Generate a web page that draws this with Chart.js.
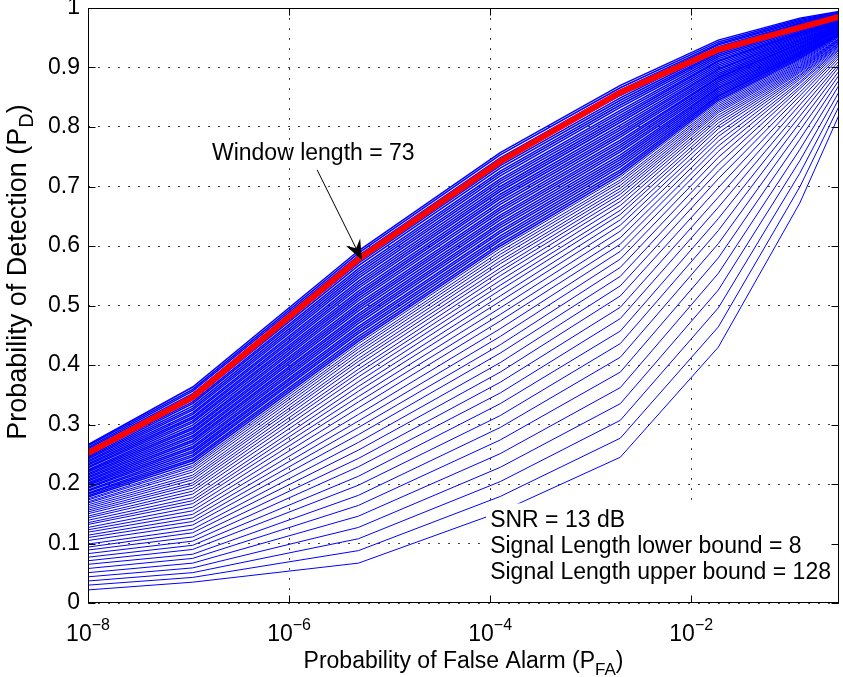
<!DOCTYPE html>
<html lang="en">
<head>
  <meta charset="UTF-8">
  <title>Probability of Detection vs False Alarm</title>
  <style>
    html, body { margin: 0; padding: 0; background: #fff; }
    #wrap { width: 843px; height: 677px; }
  </style>
</head>
<body>
<div id="wrap"><canvas id="rocChart" width="843" height="677"></canvas></div>

<script src="https://cdn.jsdelivr.net/npm/chart.js"></script>
<script>
  // false alarm probabilities where every curve has a point
  const pfa = [1e-8, 1.1e-7, 4.9e-6, 1.26e-4, 1.97e-3, 1.86e-2, 0.12, 0.295];

  // PD of every window length curve at each PFA column (lowest curve first)
  const pd0 = [0.022,0.030,0.037,0.044,0.051,0.058,0.065,0.071,0.077,0.083,0.089,0.094,0.099,0.105,0.110,0.114,0.119,0.123,0.127,0.132,0.135,0.139,0.143,0.146,0.150,0.153,0.156,0.159,0.162,0.165,0.168,0.170,0.173,0.175,
    0.178,0.180,0.183,0.185,0.188,0.190,0.193,0.195,0.198,0.200,0.202,0.205,0.207,0.210,0.212,0.215,0.217,0.220,0.222,0.224,0.227,0.229,0.232,0.234,0.237,0.239,0.242,0.244,0.246,0.249,0.251,0.254,0.256,0.259,0.261,0.264,0.266];
  const pd1 = [0.035,0.043,0.051,0.059,0.067,0.075,0.082,0.090,0.097,0.104,0.111,0.118,0.124,0.131,0.137,0.143,0.149,0.155,0.161,0.167,0.172,0.177,0.183,0.188,0.193,0.198,0.202,0.207,0.211,0.215,0.220,0.224,0.228,0.231,
    0.235,0.239,0.242,0.246,0.249,0.253,0.256,0.260,0.263,0.267,0.271,0.274,0.278,0.281,0.285,0.288,0.292,0.295,0.299,0.303,0.306,0.310,0.313,0.317,0.320,0.324,0.327,0.331,0.335,0.338,0.342,0.345,0.349,0.352,0.356,0.359,0.363];
  const pd2 = [0.067,0.088,0.108,0.127,0.146,0.164,0.181,0.198,0.213,0.229,0.243,0.257,0.270,0.283,0.295,0.306,0.317,0.328,0.338,0.347,0.356,0.364,0.372,0.380,0.387,0.393,0.400,0.406,0.411,0.417,0.422,0.427,0.431,0.436,
    0.440,0.444,0.448,0.453,0.457,0.461,0.465,0.470,0.474,0.478,0.482,0.486,0.491,0.495,0.499,0.503,0.508,0.512,0.516,0.520,0.524,0.529,0.533,0.537,0.541,0.546,0.550,0.554,0.558,0.562,0.567,0.571,0.575,0.579,0.584,0.588,0.592];
  const pd3 = [0.153,0.179,0.204,0.228,0.251,0.274,0.295,0.315,0.335,0.353,0.371,0.388,0.404,0.420,0.434,0.448,0.461,0.474,0.485,0.496,0.507,0.516,0.526,0.534,0.542,0.550,0.557,0.563,0.570,0.575,0.581,0.586,0.591,0.596,
    0.600,0.604,0.609,0.613,0.617,0.622,0.626,0.631,0.635,0.639,0.644,0.648,0.652,0.657,0.661,0.665,0.670,0.674,0.679,0.683,0.687,0.692,0.696,0.700,0.705,0.709,0.713,0.718,0.722,0.726,0.731,0.735,0.740,0.744,0.748,0.753,0.757];
  const pd4 = [0.245,0.277,0.307,0.335,0.362,0.388,0.413,0.436,0.457,0.478,0.497,0.516,0.533,0.549,0.564,0.578,0.591,0.603,0.614,0.625,0.635,0.644,0.653,0.660,0.668,0.675,0.681,0.687,0.692,0.697,0.702,0.707,0.711,0.716,
    0.720,0.724,0.728,0.733,0.737,0.741,0.745,0.749,0.753,0.758,0.762,0.766,0.770,0.774,0.778,0.783,0.787,0.791,0.795,0.799,0.803,0.808,0.812,0.816,0.820,0.824,0.828,0.833,0.837,0.841,0.845,0.849,0.853,0.858,0.862,0.866,0.870];
  const pd5 = [0.430,0.464,0.496,0.526,0.554,0.580,0.604,0.626,0.646,0.665,0.682,0.698,0.713,0.726,0.738,0.749,0.759,0.768,0.776,0.784,0.790,0.797,0.802,0.807,0.812,0.816,0.820,0.824,0.827,0.830,0.833,0.836,0.839,0.842,
    0.845,0.848,0.851,0.853,0.856,0.859,0.862,0.865,0.867,0.870,0.873,0.876,0.879,0.882,0.884,0.887,0.890,0.893,0.896,0.898,0.901,0.904,0.907,0.910,0.912,0.915,0.918,0.921,0.924,0.926,0.929,0.932,0.935,0.938,0.940,0.943,0.946];
  const pd6 = [0.672,0.699,0.722,0.743,0.762,0.779,0.794,0.807,0.818,0.828,0.837,0.845,0.852,0.858,0.864,0.868,0.873,0.876,0.880,0.883,0.886,0.888,0.891,0.893,0.895,0.897,0.899,0.901,0.903,0.905,0.907,0.909,0.911,0.913,
    0.915,0.917,0.919,0.921,0.923,0.924,0.926,0.928,0.930,0.932,0.934,0.936,0.938,0.940,0.941,0.943,0.945,0.947,0.949,0.951,0.953,0.955,0.957,0.958,0.960,0.962,0.964,0.966,0.968,0.970,0.972,0.974,0.975,0.977,0.979,0.981,0.983];
  const pd7 = [0.820,0.835,0.848,0.859,0.870,0.879,0.887,0.894,0.901,0.906,0.911,0.916,0.920,0.923,0.926,0.929,0.931,0.933,0.935,0.937,0.938,0.940,0.941,0.942,0.944,0.945,0.946,0.947,0.948,0.949,0.951,0.952,0.953,0.954,
    0.955,0.956,0.957,0.958,0.959,0.960,0.962,0.963,0.964,0.965,0.966,0.967,0.968,0.969,0.970,0.971,0.972,0.973,0.975,0.976,0.977,0.978,0.979,0.980,0.981,0.982,0.983,0.984,0.985,0.986,0.988,0.989,0.990,0.991,0.992,0.993,0.994];

  // first index of the densely packed upper bundle
  const bundleStart = 34;

  // highlighted curve, window length = 73
  const pdWindow73 = [0.252, 0.346, 0.578, 0.742, 0.858, 0.930, 0.967, 0.985];

  const xTickValues = [1e-8, 1e-6, 1e-4, 1e-2];
  const xTickExponents = ['\u22128', '\u22126', '\u22124', '\u22122'];
  const yTickValues = [0, 0.1, 0.2, 0.3, 0.4, 0.5, 0.6, 0.7, 0.8, 0.9, 1];
  const yTickLabels = ['0', '0.1', '0.2', '0.3', '0.4', '0.5', '0.6', '0.7', '0.8', '0.9', '1'];

  const infoLines = ['SNR = 13 dB', 'Signal Length lower bound = 8', 'Signal Length upper bound = 128'];

  const FONT = '"Liberation Sans", Arial, Helvetica, sans-serif';
  const pdColumns = [pd0, pd1, pd2, pd3, pd4, pd5, pd6, pd7];

  const datasets = [];
  datasets.push({
    label: 'Window length = 73',
    data: pfa.map((x, i) => ({ x: x, y: pdWindow73[i] })),
    borderColor: '#ff0000',
    borderWidth: 6,
    pointRadius: 0,
    fill: false,
    order: 0
  });
  for (let k = 0; k < pd0.length; k++) {
    datasets.push({
      label: 'curve ' + k,
      data: pfa.map((x, i) => ({ x: x, y: pdColumns[i][k] })),
      borderColor: '#0000ff',
      borderWidth: k >= bundleStart ? 1.5 : 1,
      pointRadius: 0,
      fill: false,
      order: 1
    });
  }

  // draw a run of text pieces (for sub/superscripts)
  function drawPieces(ctx, pieces, x, y, align) {
    let total = 0;
    pieces.forEach(p => { ctx.font = p.size + 'px ' + FONT; p.w = ctx.measureText(p.t).width; total += p.w; });
    let cx = align === 'center' ? x - total / 2 : x;
    ctx.textAlign = 'left';
    ctx.textBaseline = 'alphabetic';
    pieces.forEach(p => {
      ctx.font = p.size + 'px ' + FONT;
      ctx.fillText(p.t, cx, y + (p.dy || 0));
      cx += p.w;
    });
  }

  const matlabFrame = {
    id: 'matlabFrame',
    afterDraw(chart) {
      const ctx = chart.ctx;
      const a = chart.chartArea;
      const xs = chart.scales.x;
      const ys = chart.scales.y;
      const tickLen = 7;
      ctx.save();

      // text box with white background
      const bx = xs.getPixelForValue(1e-4);
      const b1 = ys.getPixelForValue(0.127);
      ctx.fillStyle = '#fff';
      ctx.fillRect(bx - 4, b1 - 24, a.right - bx + 2, 87);
      ctx.fillStyle = '#000';
      infoLines.forEach((s, i) => {
        drawPieces(ctx, [{ t: s, size: 23 }], bx, b1 + i * 26, 'left');
      });

      // axes frame and inward ticks
      ctx.strokeStyle = '#000';
      ctx.lineWidth = 1;
      const L = Math.round(a.left) + 0.5, R = Math.round(a.right) - 0.5;
      const T = Math.round(a.top) + 0.5, B = Math.round(a.bottom) - 0.5;
      ctx.strokeRect(L, T, R - L, B - T);
      ctx.beginPath();
      xs.ticks.forEach(t => {
        const px = Math.round(xs.getPixelForValue(t.value)) + 0.5;
        ctx.moveTo(px, B); ctx.lineTo(px, B - tickLen);
        ctx.moveTo(px, T); ctx.lineTo(px, T + tickLen);
      });
      ys.ticks.forEach(t => {
        const py = Math.round(ys.getPixelForValue(t.value)) + 0.5;
        ctx.moveTo(L, py); ctx.lineTo(L + tickLen, py);
        ctx.moveTo(R, py); ctx.lineTo(R - tickLen, py);
      });
      ctx.stroke();

      // x tick labels 10^n
      ctx.fillStyle = '#000';
      xs.ticks.forEach((t, i) => {
        const px = xs.getPixelForValue(t.value);
        drawPieces(ctx, [
          { t: '10', size: 23 },
          { t: xTickExponents[i], size: 16, dy: -11 }
        ], px, a.bottom + 38, 'center');
      });

      // axis titles
      drawPieces(ctx, [
        { t: 'Probability of False Alarm (P', size: 23 },
        { t: 'FA', size: 17, dy: 7 },
        { t: ')', size: 23 }
      ], (a.left + a.right) / 2, a.bottom + 65, 'center');

      ctx.save();
      ctx.translate(26, 272);
      ctx.rotate(-Math.PI / 2);
      drawPieces(ctx, [
        { t: 'Probability of Detection (P', size: 27 },
        { t: 'D', size: 20, dy: 7 },
        { t: ')', size: 27 }
      ], 0, 0, 'center');
      ctx.restore();

      // arrow annotation
      const tx = xs.getPixelForValue(1.71e-7), ty = ys.getPixelForValue(0.745);
      drawPieces(ctx, [{ t: 'Window length = 73', size: 23 }], tx, ty, 'left');
      const sx = xs.getPixelForValue(1.9e-6), sy = ys.getPixelForValue(0.728);
      const ex = xs.getPixelForValue(5.3e-6), ey = ys.getPixelForValue(0.5765);
      const len = Math.hypot(ex - sx, ey - sy);
      const ux = (ex - sx) / len, uy = (ey - sy) / len;
      const nx = -uy, ny = ux;
      ctx.beginPath();
      ctx.moveTo(sx, sy);
      ctx.lineTo(ex - ux * 12, ey - uy * 12);
      ctx.stroke();
      ctx.beginPath();
      ctx.moveTo(ex, ey);
      ctx.lineTo(ex - ux * 20 + nx * 8, ey - uy * 20 + ny * 8);
      ctx.lineTo(ex - ux * 13, ey - uy * 13);
      ctx.lineTo(ex - ux * 20 - nx * 8, ey - uy * 20 - ny * 8);
      ctx.closePath();
      ctx.fill();

      ctx.restore();
    }
  };

  const ctx = document.getElementById('rocChart').getContext('2d');
  new Chart(ctx, {
    type: 'line',
    data: { datasets: datasets },
    options: {
      responsive: false,
      animation: false,
      devicePixelRatio: 1,
      layout: { padding: { top: 8, right: 4, left: 0, bottom: 0 } },
      elements: { line: { tension: 0 } },
      plugins: {
        legend: { display: false },
        tooltip: { enabled: false }
      },
      scales: {
        x: {
          type: 'logarithmic',
          min: 1e-8,
          max: 0.295,
          afterBuildTicks: scale => { scale.ticks = xTickValues.map(v => ({ value: v })); },
          afterFit: scale => { scale.height = 74; scale.paddingLeft = 0; scale.paddingRight = 0; },
          ticks: { display: false },
          grid: { color: '#444', lineWidth: 1, drawTicks: false },
          border: { display: false, dash: [2, 8] }
        },
        y: {
          type: 'linear',
          min: 0,
          max: 1,
          afterBuildTicks: scale => { scale.ticks = yTickValues.map(v => ({ value: v })); },
          afterFit: scale => { scale.width = 88; scale.paddingTop = 0; scale.paddingBottom = 0; },
          ticks: {
            padding: 8,
            color: '#000',
            font: { family: FONT, size: 23 },
            callback: (v, i) => yTickLabels[i]
          },
          grid: { color: '#444', lineWidth: 1, drawTicks: false },
          border: { display: false, dash: [2, 8] }
        }
      }
    },
    plugins: [matlabFrame]
  });
</script>
</body>
</html>
